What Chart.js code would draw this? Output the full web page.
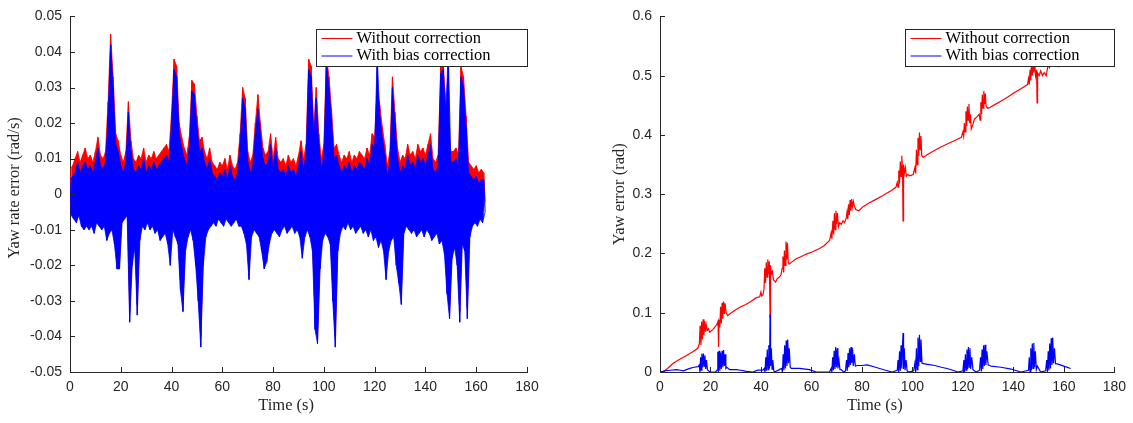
<!DOCTYPE html>
<html lang="en">
<head>
<meta charset="UTF-8">
<title>Yaw rate error / yaw error</title>
<script src="https://cdn.jsdelivr.net/npm/chart.js"></script>
<style>
    body { margin: 0; background: #ffffff; }
    #rateChart { position: absolute; left: 0; top: 0; }
    #yawChart { position: absolute; left: 590px; top: 0; }
</style>
</head>
<body>
<canvas id="rateChart" width="560" height="423"></canvas>
<canvas id="yawChart" width="543" height="423"></canvas>
<script>
// ---------- left panel: yaw rate error (rad/s), upper / lower edge of the noise per second
const rateTime = Array.from({length: 164}, (_, i) => i);

const rateRedHi = [
    0.007, 0.008, 0.010, 0.012, 0.009, 0.011, 0.013, 0.010, 0.011, 0.009,
    0.012, 0.016, 0.011, 0.010, 0.012, 0.026, 0.045, 0.033, 0.017, 0.015,
    0.011, 0.009, 0.012, 0.026, 0.015, 0.010, 0.009, 0.011, 0.010, 0.013,
    0.009, 0.011, 0.010, 0.012, 0.010, 0.011, 0.012, 0.013, 0.014, 0.012,
    0.023, 0.038, 0.036, 0.020, 0.016, 0.013, 0.011, 0.016, 0.032, 0.031,
    0.022, 0.015, 0.016, 0.012, 0.010, 0.013, 0.009, 0.008, 0.007, 0.009,
    0.008, 0.010, 0.007, 0.011, 0.008, 0.007, 0.009, 0.017, 0.030, 0.027,
    0.012, 0.009, 0.011, 0.020, 0.028, 0.020, 0.013, 0.011, 0.012, 0.017,
    0.010, 0.016, 0.010, 0.009, 0.010, 0.008, 0.011, 0.009, 0.010, 0.008,
    0.011, 0.015, 0.010, 0.014, 0.038, 0.036, 0.019, 0.030, 0.017, 0.010,
    0.014, 0.039, 0.033, 0.024, 0.013, 0.014, 0.011, 0.009, 0.011, 0.010,
    0.012, 0.009, 0.011, 0.010, 0.012, 0.011, 0.010, 0.013, 0.011, 0.017,
    0.016, 0.030, 0.025, 0.019, 0.014, 0.008, 0.012, 0.033, 0.023, 0.013,
    0.009, 0.011, 0.010, 0.014, 0.011, 0.012, 0.010, 0.014, 0.012, 0.013,
    0.011, 0.014, 0.017, 0.010, 0.009, 0.011, 0.036, 0.037, 0.026, 0.020,
    0.012, 0.012, 0.013, 0.011, 0.036, 0.033, 0.022, 0.009, 0.008, 0.007,
    0.008, 0.006, 0.007, 0.006
];
const rateRedLo = [
    -0.003, -0.004, -0.005, -0.003, -0.006, -0.007, -0.006, -0.007, -0.006, -0.008,
    -0.005, -0.006, -0.007, -0.006, -0.010, -0.008, -0.007, -0.011, -0.018, -0.018,
    -0.005, -0.004, -0.003, -0.033, -0.017, -0.012, -0.031, -0.010, -0.006, -0.007,
    -0.005, -0.007, -0.006, -0.008, -0.007, -0.010, -0.009, -0.008, -0.011, -0.017,
    -0.007, -0.009, -0.011, -0.024, -0.030, -0.013, -0.009, -0.007, -0.010, -0.017,
    -0.027, -0.040, -0.017, -0.009, -0.007, -0.006, -0.005, -0.006, -0.004, -0.005,
    -0.006, -0.004, -0.005, -0.006, -0.005, -0.004, -0.006, -0.006, -0.008, -0.011,
    -0.021, -0.009, -0.007, -0.008, -0.009, -0.013, -0.018, -0.016, -0.011, -0.008,
    -0.007, -0.008, -0.009, -0.007, -0.006, -0.008, -0.007, -0.006, -0.008, -0.007,
    -0.009, -0.015, -0.009, -0.007, -0.009, -0.013, -0.035, -0.039, -0.018, -0.010,
    -0.008, -0.009, -0.011, -0.027, -0.040, -0.013, -0.008, -0.006, -0.007, -0.005,
    -0.007, -0.006, -0.008, -0.007, -0.006, -0.008, -0.007, -0.009, -0.007, -0.010,
    -0.009, -0.012, -0.010, -0.013, -0.021, -0.013, -0.010, -0.009, -0.017, -0.022,
    -0.028, -0.008, -0.006, -0.007, -0.008, -0.007, -0.009, -0.008, -0.007, -0.009,
    -0.007, -0.008, -0.010, -0.009, -0.008, -0.011, -0.010, -0.014, -0.025, -0.032,
    -0.015, -0.012, -0.017, -0.033, -0.011, -0.013, -0.032, -0.009, -0.006, -0.005,
    -0.006, -0.004, -0.005, -0.002
];
const rateBlueHi = [
    0.004, 0.005, 0.006, 0.009, 0.006, 0.008, 0.009, 0.007, 0.008, 0.006,
    0.009, 0.013, 0.008, 0.007, 0.009, 0.022, 0.042, 0.030, 0.014, 0.012,
    0.008, 0.006, 0.009, 0.023, 0.012, 0.007, 0.006, 0.008, 0.007, 0.010,
    0.006, 0.008, 0.007, 0.009, 0.007, 0.008, 0.009, 0.010, 0.011, 0.009,
    0.020, 0.035, 0.033, 0.017, 0.013, 0.010, 0.008, 0.013, 0.029, 0.028,
    0.019, 0.012, 0.013, 0.009, 0.007, 0.010, 0.006, 0.005, 0.004, 0.006,
    0.005, 0.007, 0.004, 0.008, 0.005, 0.004, 0.006, 0.014, 0.027, 0.024,
    0.009, 0.006, 0.008, 0.017, 0.024, 0.017, 0.010, 0.008, 0.009, 0.014,
    0.007, 0.013, 0.007, 0.006, 0.007, 0.005, 0.008, 0.006, 0.007, 0.005,
    0.008, 0.012, 0.007, 0.011, 0.035, 0.033, 0.016, 0.027, 0.014, 0.007,
    0.011, 0.037, 0.030, 0.021, 0.010, 0.011, 0.008, 0.006, 0.008, 0.007,
    0.009, 0.006, 0.008, 0.007, 0.009, 0.008, 0.007, 0.010, 0.008, 0.014,
    0.013, 0.039, 0.022, 0.016, 0.011, 0.005, 0.009, 0.030, 0.020, 0.010,
    0.006, 0.008, 0.007, 0.011, 0.008, 0.009, 0.007, 0.011, 0.009, 0.010,
    0.008, 0.011, 0.014, 0.007, 0.006, 0.008, 0.034, 0.035, 0.023, 0.040,
    0.009, 0.009, 0.010, 0.008, 0.033, 0.030, 0.019, 0.006, 0.005, 0.004,
    0.005, 0.003, 0.004, 0.004
];
const rateBlueLo = [
    -0.006, -0.007, -0.008, -0.006, -0.009, -0.010, -0.009, -0.010, -0.009, -0.011,
    -0.008, -0.009, -0.010, -0.009, -0.013, -0.011, -0.010, -0.014, -0.021, -0.021,
    -0.008, -0.007, -0.006, -0.036, -0.020, -0.015, -0.034, -0.013, -0.009, -0.010,
    -0.008, -0.010, -0.009, -0.011, -0.010, -0.013, -0.012, -0.011, -0.014, -0.020,
    -0.010, -0.012, -0.014, -0.027, -0.033, -0.016, -0.012, -0.010, -0.013, -0.020,
    -0.030, -0.043, -0.020, -0.012, -0.010, -0.009, -0.008, -0.009, -0.007, -0.008,
    -0.009, -0.007, -0.008, -0.009, -0.008, -0.007, -0.009, -0.009, -0.011, -0.014,
    -0.024, -0.012, -0.010, -0.011, -0.012, -0.016, -0.021, -0.019, -0.014, -0.011,
    -0.010, -0.011, -0.012, -0.010, -0.009, -0.011, -0.010, -0.009, -0.011, -0.010,
    -0.012, -0.018, -0.012, -0.010, -0.012, -0.016, -0.038, -0.042, -0.021, -0.013,
    -0.011, -0.012, -0.014, -0.030, -0.043, -0.016, -0.011, -0.009, -0.010, -0.008,
    -0.010, -0.009, -0.011, -0.010, -0.009, -0.011, -0.010, -0.012, -0.010, -0.013,
    -0.012, -0.015, -0.013, -0.016, -0.024, -0.016, -0.013, -0.012, -0.020, -0.025,
    -0.031, -0.011, -0.009, -0.010, -0.011, -0.010, -0.012, -0.011, -0.010, -0.012,
    -0.010, -0.011, -0.013, -0.012, -0.011, -0.014, -0.013, -0.017, -0.028, -0.035,
    -0.018, -0.015, -0.020, -0.036, -0.014, -0.016, -0.035, -0.012, -0.009, -0.008,
    -0.009, -0.007, -0.008, -0.005
];
const rateTicks = [-0.05, -0.04, -0.03, -0.02, -0.01, 0, 0.01, 0.02, 0.03, 0.04, 0.05];

// ---------- right panel: yaw error (rad), [time, value]
const yawRed = [
    [0, 0], [1.5, 0.001], [3, 0.006], [5, 0.014], [6, 0.017], [8, 0.022], [10.5, 0.028], [13, 0.034], [15, 0.040],
    [15.6, 0.048], [15.9, 0.078], [16.2, 0.045], [16.5, 0.085], [16.8, 0.055], [17.1, 0.089], [17.4, 0.062],
    [17.7, 0.086], [18.0, 0.068], [18.3, 0.080], [18.7, 0.070], [19.2, 0.073], [19.7, 0.067], [21, 0.072],
    [22.5, 0.080], [23.0, 0.086], [23.2, 0.042], [23.4, 0.088], [23.7, 0.075], [24.0, 0.110], [24.3, 0.082],
    [24.6, 0.117], [24.9, 0.090], [25.2, 0.119], [25.5, 0.098], [25.8, 0.116], [26.2, 0.100], [26.8, 0.095],
    [28, 0.099], [30, 0.105], [32, 0.110], [34, 0.114], [36, 0.119], [38, 0.125], [39.5, 0.127], [40.0, 0.135],
    [40.3, 0.128], [40.8, 0.130], [41.2, 0.140], [41.5, 0.175], [41.8, 0.150], [42.1, 0.185], [42.4, 0.160],
    [42.7, 0.190], [43.0, 0.165], [43.3, 0.187], [43.6, 0.093], [43.8, 0.180], [44.1, 0.165], [44.5, 0.170],
    [45.0, 0.155], [45.8, 0.152], [46.5, 0.158], [47.3, 0.160], [48.0, 0.165], [48.4, 0.175], [48.7, 0.195],
    [49.0, 0.168], [49.3, 0.205], [49.6, 0.180], [49.9, 0.220], [50.2, 0.190], [50.5, 0.218], [50.8, 0.185],
    [51.2, 0.182], [52, 0.185], [54, 0.191], [56, 0.195], [58, 0.199], [60, 0.202], [63, 0.208], [65, 0.213],
    [67.2, 0.222], [67.8, 0.235], [68.1, 0.225], [68.5, 0.255], [68.8, 0.232], [69.1, 0.268], [69.4, 0.240],
    [69.7, 0.272], [70.0, 0.250], [70.3, 0.268], [70.7, 0.245], [71.2, 0.252], [71.8, 0.249], [72.5, 0.255],
    [73.1, 0.252], [73.8, 0.260], [74.1, 0.270], [74.4, 0.258], [74.7, 0.283], [75.0, 0.265], [75.3, 0.290],
    [75.6, 0.272], [75.9, 0.292], [76.2, 0.278], [76.6, 0.288], [77.0, 0.280], [77.6, 0.274], [78.8, 0.272],
    [80.5, 0.279], [82.8, 0.285], [85, 0.290], [88, 0.297], [90, 0.302], [92, 0.307], [93.5, 0.312],
    [94.0, 0.320], [94.3, 0.312], [94.6, 0.340], [94.9, 0.318], [95.2, 0.355], [95.5, 0.330], [95.8, 0.365],
    [96.1, 0.340], [96.3, 0.255], [96.5, 0.350], [96.8, 0.335], [97.2, 0.345], [97.6, 0.330], [98.2, 0.333],
    [99.0, 0.331], [100.3, 0.333], [101.0, 0.345], [101.3, 0.335], [101.6, 0.375], [101.9, 0.350],
    [102.2, 0.395], [102.5, 0.365], [102.8, 0.404], [103.1, 0.375], [103.4, 0.398], [103.7, 0.365],
    [104.3, 0.362], [106, 0.367], [108.9, 0.374], [111.5, 0.380], [114, 0.385], [117, 0.391], [119.4, 0.396],
    [120.0, 0.405], [120.3, 0.398], [120.6, 0.420], [120.9, 0.405], [121.2, 0.440], [121.5, 0.415],
    [121.8, 0.448], [122.1, 0.425], [122.4, 0.452], [122.7, 0.420], [123.0, 0.435], [123.3, 0.410],
    [124.0, 0.418], [124.6, 0.427], [125.5, 0.430], [126.5, 0.435], [126.8, 0.425], [127.1, 0.455],
    [127.4, 0.435], [127.7, 0.468], [128.0, 0.445], [128.3, 0.474], [128.6, 0.452], [128.9, 0.470],
    [129.2, 0.448], [129.8, 0.445], [130.5, 0.446], [133, 0.452], [135, 0.457], [137.5, 0.463], [140.3, 0.471],
    [143, 0.478], [145.6, 0.485], [146.0, 0.495], [146.3, 0.485], [146.6, 0.510], [146.9, 0.492],
    [147.2, 0.525], [147.5, 0.500], [147.8, 0.530], [148.1, 0.505], [148.4, 0.525], [148.8, 0.500],
    [149.2, 0.510], [149.4, 0.454], [149.6, 0.505], [150.2, 0.500], [150.8, 0.508], [151.5, 0.500],
    [152.2, 0.505], [153.0, 0.500], [153.7, 0.517], [154.0, 0.530], [154.3, 0.512], [154.6, 0.540],
    [154.9, 0.520], [155.2, 0.548], [155.5, 0.525], [155.8, 0.545], [156.2, 0.522], [156.8, 0.518],
    [158, 0.515], [160, 0.520], [162, 0.523], [163, 0.525]
];
const yawBlue = [
    [0, 0], [2, 0.002], [4, 0.003], [6.6, 0.004], [8, 0.003], [9.2, 0.002], [11.8, 0.006], [13.5, 0.008],
    [15.1, 0.009], [15.6, 0.012], [15.8, 0.0], [16.1, 0.025], [16.3, 0.003], [16.6, 0.031], [16.9, 0.008],
    [17.2, 0.031], [17.5, 0.010], [17.8, 0.028], [18.1, 0.005], [18.4, 0.020], [18.8, 0.004], [19.2, 0.002],
    [20, 0], [22, 0], [22.6, 0.003], [22.9, 0.034], [23.1, 0.0], [23.4, 0.036], [23.7, 0.002], [24.0, 0.033],
    [24.3, 0.005], [24.6, 0.036], [24.9, 0.008], [25.2, 0.037], [25.5, 0.010], [25.8, 0.030], [26.1, 0.006],
    [26.5, 0.008], [27.6, 0.004], [30.2, 0.004], [32, 0.003], [34.2, 0.001], [36.8, 0], [38.8, 0.003],
    [40.8, 0.003], [41.3, 0.006], [41.6, 0.0], [41.9, 0.025], [42.2, 0.002], [42.5, 0.038], [42.8, 0.004],
    [43.1, 0.045], [43.4, 0.006], [43.6, 0.097], [43.8, 0.010], [44.1, 0.040], [44.4, 0.005], [44.7, 0.020],
    [45.1, 0.002], [45.4, 0], [47.3, 0.004], [48.2, 0.006], [48.5, 0.0], [48.8, 0.030], [49.1, 0.003],
    [49.4, 0.045], [49.7, 0.006], [50.0, 0.053], [50.3, 0.010], [50.6, 0.055], [50.9, 0.015], [51.2, 0.040],
    [51.6, 0.008], [52, 0.006], [55.3, 0.006], [59.2, 0.004], [61.9, 0], [67.2, 0], [67.8, 0.006], [68.1, 0.0],
    [68.4, 0.025], [68.7, 0.003], [69.0, 0.036], [69.3, 0.005], [69.6, 0.042], [69.9, 0.008], [70.2, 0.040],
    [70.5, 0.006], [70.9, 0.020], [71.3, 0.004], [71.8, 0.004], [72.8, 0], [73.5, 0.002], [73.9, 0.020],
    [74.2, 0.002], [74.5, 0.032], [74.8, 0.008], [75.1, 0.040], [75.4, 0.012], [75.7, 0.042], [76.0, 0.015],
    [76.3, 0.040], [76.6, 0.010], [77.0, 0.030], [77.4, 0.010], [78.0, 0.011], [80, 0.011], [82.1, 0.012],
    [85.4, 0.008], [89.3, 0.003], [92, 0], [94.0, 0.003], [94.3, 0.020], [94.6, 0.0], [94.9, 0.035],
    [95.2, 0.002], [95.5, 0.045], [95.8, 0.006], [96.1, 0.047], [96.3, 0.066], [96.5, 0.005], [96.8, 0.040],
    [97.1, 0.003], [97.5, 0.020], [97.9, 0.002], [98.5, 0], [100.5, 0.002], [101.0, 0.015], [101.3, 0.0],
    [101.6, 0.040], [101.9, 0.004], [102.2, 0.058], [102.5, 0.010], [102.8, 0.063], [103.1, 0.018],
    [103.4, 0.055], [103.8, 0.015], [104.3, 0.014], [106, 0.013], [108.9, 0.011], [111.5, 0.008],
    [114.1, 0.0055], [116, 0.003], [118.1, 0], [120.0, 0.002], [120.4, 0.020], [120.7, 0.0], [121.0, 0.030],
    [121.3, 0.003], [121.6, 0.038], [121.9, 0.005], [122.2, 0.042], [122.5, 0.008], [122.8, 0.040],
    [123.1, 0.005], [123.5, 0.025], [124.0, 0.004], [125.3, 0], [126.6, 0.003], [127.0, 0.025], [127.3, 0.001],
    [127.6, 0.038], [127.9, 0.005], [128.2, 0.045], [128.5, 0.010], [128.8, 0.046], [129.1, 0.012],
    [129.5, 0.035], [130.0, 0.012], [130.5, 0.011], [131.2, 0.010], [135.1, 0.008], [139.1, 0.005], [143, 0],
    [146.0, 0.003], [146.3, 0.025], [146.6, 0.0], [146.9, 0.040], [147.2, 0.003], [147.5, 0.048],
    [147.8, 0.006], [148.1, 0.049], [148.4, 0.008], [148.7, 0.035], [149.1, 0.004], [149.5, 0.010], [150.8, 0],
    [152.8, 0.002], [153.2, 0.020], [153.5, 0.0], [153.8, 0.035], [154.1, 0.003], [154.4, 0.048],
    [154.7, 0.006], [155.0, 0.057], [155.3, 0.012], [155.6, 0.058], [155.9, 0.015], [156.3, 0.040],
    [156.7, 0.014], [157.4, 0.0137], [160, 0.010], [162.7, 0.006]
];
const yawTicks = [0, 0.1, 0.2, 0.3, 0.4, 0.5, 0.6];
const timeTicks = [0, 20, 40, 60, 80, 100, 120, 140, 160, 180];

const seriesNames = ['Without correction', 'With bias correction'];
const RED = '#ff0000';
const BLUE = '#0000ff';
const AXIS = '#262626';
const TICK_FONT = { family: '"Liberation Sans", Arial, sans-serif', size: 14 };
const TITLE_FONT = { family: '"Liberation Serif", "Times New Roman", serif', size: 16.5 };

// hi/lo per second -> zigzag so the noise shows spiky edges
function band(hi, lo) {
    const pts = [];
    rateTime.forEach((t, i) => {
        pts.push({ x: t, y: hi[i] });
        pts.push({ x: t + 0.5, y: lo[i] });
    });
    return pts;
}
// one edge of the band (used for the solid fill between hi and lo)
function edge(vals, shift) {
    return rateTime.map((t, i) => ({ x: t + shift, y: vals[i] }));
}
const toPoints = arr => arr.map(p => ({ x: p[0], y: p[1] }));

// matlab style ticks pointing into the plot
const innerTicks = {
    id: 'innerTicks',
    afterDatasetsDraw(chart) {
        const { ctx, chartArea: a, scales } = chart;
        ctx.save();
        ctx.strokeStyle = AXIS;
        ctx.lineWidth = 1;
        ctx.beginPath();
        scales.x.ticks.forEach((t, i) => {
            const px = Math.round(scales.x.getPixelForTick(i)) + 0.5;
            ctx.moveTo(px, a.bottom);
            ctx.lineTo(px, a.bottom - 5);
        });
        scales.y.ticks.forEach((t, i) => {
            const py = Math.round(scales.y.getPixelForTick(i)) + 0.5;
            ctx.moveTo(a.left, py);
            ctx.lineTo(a.left + 5, py);
        });
        ctx.stroke();
        ctx.restore();
    }
};

// boxed legend in the top right corner of the plot
const boxLegend = {
    id: 'boxLegend',
    afterDraw(chart, args, opts) {
        const { ctx, chartArea: a } = chart;
        const w = opts.width, h = 37;
        const x = Math.round(a.right - w) + 0.5, y = Math.round(a.top + 13) + 0.5;
        ctx.save();
        ctx.fillStyle = '#ffffff';
        ctx.fillRect(x, y, w, h);
        ctx.strokeStyle = AXIS;
        ctx.lineWidth = 1;
        ctx.strokeRect(x, y, w, h);
        ctx.font = TITLE_FONT.size + 'px ' + TITLE_FONT.family;
        ctx.textBaseline = 'middle';
        opts.order.forEach((di, row) => {
            const ds = chart.data.datasets[di];
            const cy = y + 9 + row * 17.5;
            ctx.strokeStyle = ds.borderColor;
            ctx.beginPath();
            ctx.moveTo(x + 5, cy);
            ctx.lineTo(x + 36, cy);
            ctx.stroke();
            ctx.fillStyle = '#000000';
            ctx.fillText(ds.label, x + 40, cy);
        });
        ctx.restore();
    }
};

function scalesFor(yMin, yMax, yTickList, yTitle, yTitlePad) {
    return {
        x: {
            type: 'linear', min: 0, max: 180,
            afterBuildTicks: s => { s.ticks = timeTicks.map(v => ({ value: v })); },
            afterFit: s => { s.height = 51; },
            grid: { display: false, drawTicks: false },
            border: { display: true, color: AXIS, width: 1 },
            ticks: { color: AXIS, font: TICK_FONT, padding: 7, maxRotation: 0, callback: v => String(v) },
            title: { display: true, text: 'Time (s)\u2002\u2002\u2002', color: AXIS, font: TITLE_FONT, padding: { bottom: 7 } }
        },
        y: {
            type: 'linear', min: yMin, max: yMax,
            afterBuildTicks: s => { s.ticks = yTickList.map(v => ({ value: v })); },
            afterFit: s => { s.width = 70; },
            grid: { display: false, drawTicks: false },
            border: { display: true, color: AXIS, width: 1 },
            ticks: { color: AXIS, font: TICK_FONT, padding: 8, callback: v => String(+v.toFixed(2)) },
            title: { display: true, text: yTitle, color: AXIS, font: TITLE_FONT, padding: { top: yTitlePad } }
        }
    };
}

const lineStyle = { borderWidth: 1, pointRadius: 0, tension: 0, fill: false };
const edgeStyle = { borderWidth: 0.8, pointRadius: 0, tension: 0 };

new Chart(document.getElementById('rateChart'), {
    type: 'line',
    data: {
        datasets: [
            { label: 'red hi', data: edge(rateRedHi, 0), borderColor: RED, backgroundColor: RED, fill: '+1', order: 3, ...edgeStyle },
            { label: 'red lo', data: edge(rateRedLo, 0.5), borderColor: RED, fill: false, order: 3, ...edgeStyle },
            { label: seriesNames[0], data: band(rateRedHi, rateRedLo), borderColor: RED, order: 2, ...lineStyle },
            { label: 'blue hi', data: edge(rateBlueHi, 0), borderColor: BLUE, backgroundColor: BLUE, fill: '+1', order: 1, ...edgeStyle },
            { label: 'blue lo', data: edge(rateBlueLo, 0.5), borderColor: BLUE, fill: false, order: 1, ...edgeStyle },
            { label: seriesNames[1], data: band(rateBlueHi, rateBlueLo), borderColor: BLUE, order: 0, ...lineStyle }
        ]
    },
    options: {
        responsive: false,
        animation: false,
        events: [],
        layout: { padding: { left: 0, right: 33, top: 11, bottom: 0 } },
        scales: scalesFor(-0.05, 0.05, rateTicks, '\u2002 Yaw rate error (rad/s)', 5),
        plugins: {
            legend: { display: false },
            tooltip: { enabled: false },
            filler: { propagate: false },
            boxLegend: { width: 211, order: [2, 5] }
        }
    },
    plugins: [innerTicks, boxLegend]
});

new Chart(document.getElementById('yawChart'), {
    type: 'line',
    data: {
        datasets: [
            { label: seriesNames[0], data: toPoints(yawRed), borderColor: RED, order: 1, ...lineStyle, borderWidth: 1.2 },
            { label: seriesNames[1], data: toPoints(yawBlue), borderColor: BLUE, order: 0, ...lineStyle, borderWidth: 1.2 }
        ]
    },
    options: {
        responsive: false,
        animation: false,
        events: [],
        layout: { padding: { left: 0, right: 16, top: 11, bottom: 0 } },
        scales: scalesFor(0, 0.6, yawTicks, 'Yaw error (rad)', 20),
        plugins: {
            legend: { display: false },
            tooltip: { enabled: false },
            boxLegend: { width: 209, order: [0, 1] }
        }
    },
    plugins: [innerTicks, boxLegend]
});
</script>
</body>
</html>
